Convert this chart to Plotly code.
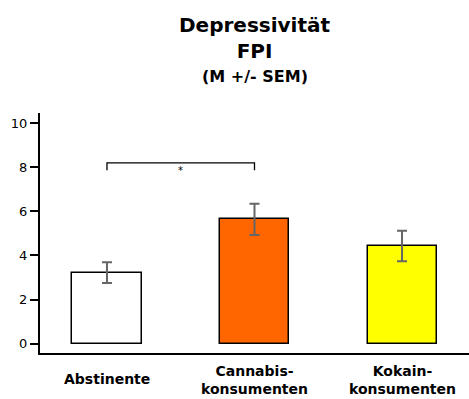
import plotly.graph_objects as go

# Group means and standard errors (FPI depressiveness scale)
groups = ["Abstinente", "Cannabis-<br>konsumenten", "Kokain-<br>konsumenten"]
means = [3.22, 5.63, 4.43]
sems = [0.47, 0.71, 0.69]
bar_colors = ["#FFFFFF", "#FF6600", "#FFFF00"]

# Significance bracket between the first two groups
sig_pair = [0, 1]
sig_top = 8.19
sig_drop = 7.86
sig_label = "*"

y_ticks = [0, 2, 4, 6, 8, 10]

title_text = "Depressivität<br>FPI"
subtitle_text = "(M +/- SEM)"

FONT = "DejaVu Sans, Verdana, sans-serif"
x_pos = list(range(len(groups)))

fig = go.Figure()

fig.add_trace(go.Bar(
    x=x_pos,
    y=means,
    width=0.468,
    marker=dict(color=bar_colors, line=dict(color="#000000", width=1.5)),
    error_y=dict(type="data", array=sems, visible=True,
                 color="#666666", thickness=2, width=5),
    hoverinfo="skip",
))

# bracket
fig.add_trace(go.Scatter(
    x=[sig_pair[0], sig_pair[0], sig_pair[1], sig_pair[1]],
    y=[sig_drop, sig_top, sig_top, sig_drop],
    mode="lines",
    line=dict(color="#000000", width=1.3),
    hoverinfo="skip",
))
fig.add_annotation(
    x=(sig_pair[0] + sig_pair[1]) / 2, y=sig_drop, xref="x", yref="y",
    text=sig_label, showarrow=False,
    font=dict(family=FONT, size=10, color="#000000"),
)

# category labels under the axis
for i, g in enumerate(groups):
    two_lines = "<br>" in g
    fig.add_annotation(
        x=i, xref="x", y=-0.113 if two_lines else -0.108, yref="paper",
        text="<b>" + g + "</b>", showarrow=False,
        yanchor="middle", xanchor="center",
        font=dict(family=FONT, size=14, color="#000000"),
    )

# title block
fig.add_annotation(
    x=0.5, xref="paper", y=1.3125, yref="paper",
    text="<b>" + title_text + "</b>", showarrow=False,
    yanchor="middle", xanchor="center",
    font=dict(family=FONT, size=20, color="#000000"),
)
fig.add_annotation(
    x=0.5, xref="paper", y=1.154, yref="paper",
    text="<b>" + subtitle_text + "</b>", showarrow=False,
    yanchor="middle", xanchor="center",
    font=dict(family=FONT, size=16, color="#000000"),
)

fig.update_layout(
    width=469, height=399,
    margin=dict(l=40, r=0, t=113, b=46),
    paper_bgcolor="#FFFFFF",
    plot_bgcolor="#FFFFFF",
    showlegend=False,
    bargap=0,
)
fig.update_xaxes(
    range=[-0.454, 2.454],
    showgrid=False, zeroline=False,
    showline=True, linecolor="#000000", linewidth=2,
    showticklabels=False, ticks="",
)
fig.update_yaxes(
    range=[-0.42, 10.45],
    tickvals=y_ticks,
    showgrid=False, zeroline=False,
    showline=True, linecolor="#000000", linewidth=2,
    ticks="outside", ticklen=8, tickwidth=1.5, tickcolor="#000000",
    tickfont=dict(family=FONT, size=13, color="#000000"),
)

fig.write_html("out.html")
